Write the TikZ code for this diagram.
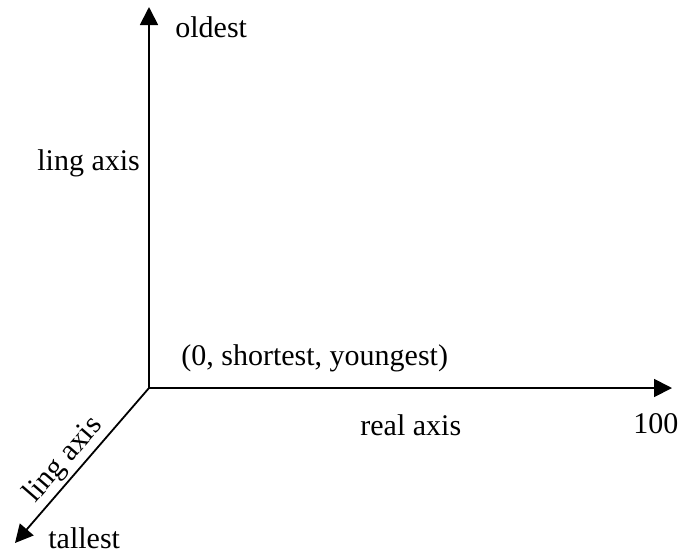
\documentclass[tikz,border=0pt]{standalone}
\usepackage{fontspec}
\setmainfont{Liberation Serif}
\usetikzlibrary{arrows.meta,positioning}
\tikzset{
  axis/.style  = {-{Triangle[length=9pt, width=9pt]}, line width=0.9pt},
  lbl/.style   = {font=\fontsize{15}{17}\selectfont, inner sep=0pt, anchor=base west},
}
\begin{document}
\begin{tikzpicture}[x=0.5pt, y=-0.5pt]
\useasboundingbox (0,0) rectangle (679,553);
% axes
\coordinate (o) at (149,388);
\coordinate (top) at (149,7);
\coordinate (right) at (672,388);
\coordinate (down) at (15,543);
\draw[axis] (o) -- (top);
\draw[axis] (o) -- (right);
\draw[axis] (o) -- (down);

% labels
\node[lbl] (old) at (175,37) {oldest};
\node[lbl] (lingv) at (37,170) {ling axis};
\node[lbl] (orig) at (181,365) {(0, shortest, youngest)};
\node[lbl] (real) at (360,435) {real axis};
\node[lbl] (hund) at (633,433) {100};
\node[lbl] (tall) at (48,548) {tallest};
\node[font=\fontsize{15}{17}\selectfont, inner sep=0pt, rotate=49] (lingd) at (64,460) {ling axis};
\end{tikzpicture}
\end{document}
